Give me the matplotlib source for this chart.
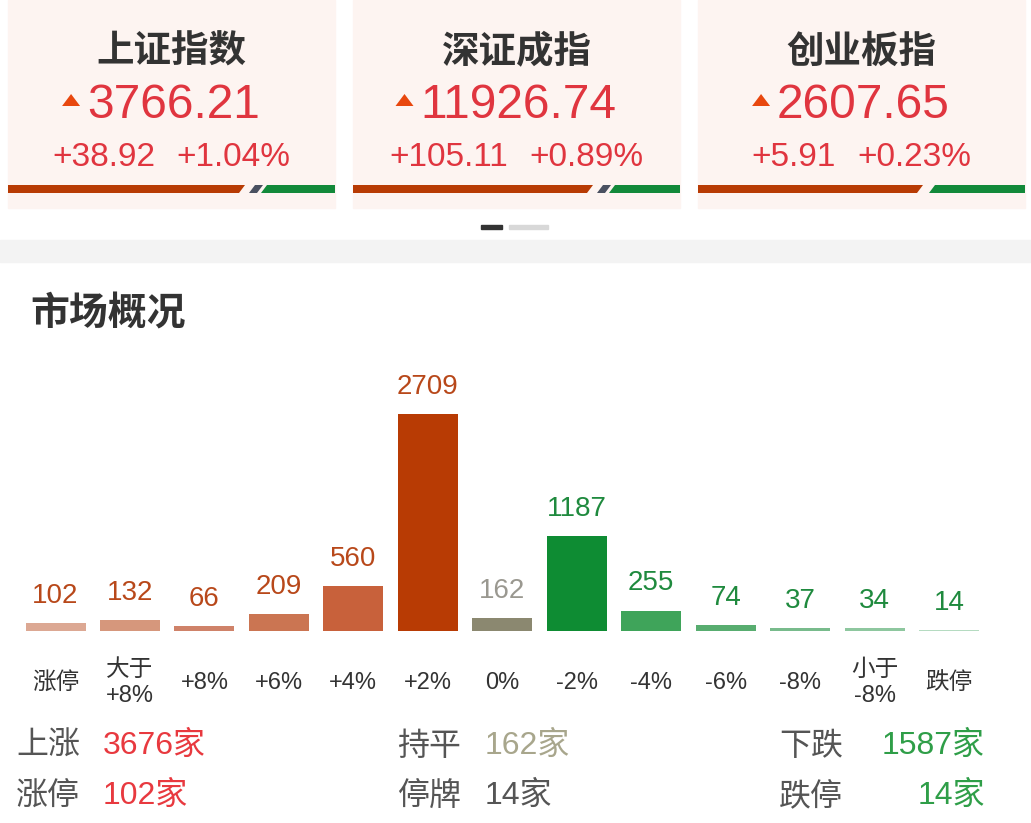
import matplotlib
matplotlib.use('Agg')
import matplotlib.pyplot as plt
from matplotlib.patches import Rectangle, Polygon
import matplotlib.transforms as mtransforms

# ---------------- data ----------------
index_names = ['上证指数', '深证成指', '创业板指']
index_values = ['3766.21', '11926.74', '2607.65']
index_changes = ['+38.92', '+105.11', '+5.91']
index_pcts = ['+1.04%', '+0.89%', '+0.23%']

categories = ['涨停', '大于\n+8%', '+8%', '+6%', '+4%', '+2%', '0%',
              '-2%', '-4%', '-6%', '-8%', '小于\n-8%', '跌停']
counts = [102, 132, 66, 209, 560, 2709, 162, 1187, 255, 74, 37, 34, 14]

summary_labels = [['上涨', '持平', '下跌'], ['涨停', '停牌', '跌停']]
summary_values = [['3676家', '162家', '1587家'], ['102家', '14家', '14家']]

# ---------------- styles ----------------
bar_colors = ['#dca893', '#d6977c', '#cf8269', '#cb7552', '#c8613b', '#b83b04',
              '#8b8870', '#0e8c33', '#3fa45a', '#58ad70', '#78bb8c', '#8ec79f', '#b5dbc1']
label_colors = ['#b8481a'] * 6 + ['#9a9890'] + ['#1f8a3e'] * 6
summary_colors = [['#e8393f', '#a8a68c', '#2f9e48'], ['#e8393f', '#555555', '#2f9e48']]

CJK = 'Noto Sans CJK SC'
NUM = ['Liberation Sans', CJK]
plt.rcParams['font.family'] = ['Liberation Sans', CJK, 'DejaVu Sans']

W, H = 1031, 823
fig = plt.figure(figsize=(W / 100, H / 100), dpi=100)
fig.patch.set_facecolor('white')

bg = fig.add_axes([0, 0, 1, 1])
bg.set_xlim(0, W)
bg.set_ylim(H, 0)
bg.axis('off')

# ---------------- index cards ----------------
card_x0 = [8, 353, 698]
card_w = 327
card_bar_red_end = [245, 593, 923]
card_has_slash = [True, True, False]
red_c = '#e0353f'
num_texts = []
chg_texts = []
for k in range(3):
    x0 = card_x0[k]
    cx = x0 + card_w / 2
    bg.add_patch(Rectangle((x0, 0), card_w, 208, color='#fdf4f1', zorder=0))
    bg.text(cx, 51, index_names[k], ha='center', va='center', fontsize=27,
            fontweight='bold', color='#333333', family=[CJK])
    t = bg.text(cx + 2, 118, index_values[k], ha='center', va='baseline',
                fontsize=34.5, color=red_c, family=NUM)
    num_texts.append((t, cx + 2))
    t1 = bg.text(cx, 166, index_changes[k], ha='right', va='baseline',
                 fontsize=24, color=red_c, family=NUM)
    t2 = bg.text(cx, 166, index_pcts[k], ha='left', va='baseline',
                 fontsize=24, color=red_c, family=NUM)
    chg_texts.append((t1, t2, cx))
    # split bar
    re = card_bar_red_end[k]
    xe = x0 + card_w
    bg.add_patch(Polygon([(x0, 193), (x0, 185), (re, 185), (re - 6, 193)],
                         closed=True, color='#b83b04', lw=0))
    if card_has_slash[k]:
        bg.add_patch(Polygon([(re + 4, 193), (re + 10, 185), (re + 18, 185), (re + 12, 193)],
                             closed=True, color='#4a5060', lw=0))
        gs = re + 22
    else:
        gs = re + 12
    bg.add_patch(Polygon([(gs - 6, 193), (gs, 185), (xe, 185), (xe, 193)],
                         closed=True, color='#12893a', lw=0))

# page indicator & separator band
bg.add_patch(Rectangle((481, 225), 21, 4, color='#333333'))
bg.add_patch(Rectangle((509, 225), 39, 4, color='#d8d8d8'))
bg.add_patch(Rectangle((0, 240), W, 22, color='#f3f3f3'))

bg.text(30, 314, '市场概况', ha='left', va='center', fontsize=28,
        fontweight='bold', color='#333333', family=[CJK])

# ---------------- bar chart ----------------
sp = 74.46
base_px = 631
px_per_unit = 0.0801
ax = fig.add_axes([0, (H - base_px) / H, 1, 300 / H])
ax.set_xlim(-55.5 / sp, (W - 55.5) / sp)
ax.set_ylim(0, 300 / px_per_unit)
ax.axis('off')
ax.patch.set_alpha(0)
xs = list(range(len(counts)))
ax.bar(xs, counts, width=60 / sp, color=bar_colors, linewidth=0)
for i, c in enumerate(counts):
    ax.annotate(str(c), (i, c), xytext=(0, 14.5), textcoords='offset points',
                ha='center', va='baseline', fontsize=20, color=label_colors[i],
                family=NUM, annotation_clip=False)
trans = mtransforms.blended_transform_factory(ax.transData, bg.transData)
for i, cat in enumerate(categories):
    ax.text(i, 683, cat, transform=trans, ha='center', va='center', fontsize=17,
            color='#333333', linespacing=1.2, family=NUM, clip_on=False)

# ---------------- summary ----------------
row_y = [746, 796]
lab_x = [16, 397, 779]
val_x = [103, 485, 985]
for r in range(2):
    for c in range(3):
        bg.text(lab_x[c], row_y[r], summary_labels[r][c], ha='left', va='center',
                fontsize=23, color='#555555', family=[CJK])
        bg.text(val_x[c], row_y[r], summary_values[r][c],
                ha='right' if c == 2 else 'left', va='center',
                fontsize=23, color=summary_colors[r][c], family=NUM)

# ---------------- measured placement ----------------
fig.canvas.draw()
renderer = fig.canvas.get_renderer()
for t, cx in num_texts:
    bb = t.get_window_extent(renderer)
    left = cx - bb.width / 2
    tri_r = left - 7
    bg.add_patch(Polygon([(tri_r - 18, 106), (tri_r, 106), (tri_r - 9, 94)],
                         closed=True, color='#e8470e', lw=0))
for t1, t2, cx in chg_texts:
    w1 = t1.get_window_extent(renderer).width
    w2 = t2.get_window_extent(renderer).width
    gap = 21
    total = w1 + gap + w2
    start = cx - total / 2
    t1.set_x(start + w1)
    t2.set_x(start + w1 + gap)

fig.savefig('out.png', dpi=100, facecolor='white')
